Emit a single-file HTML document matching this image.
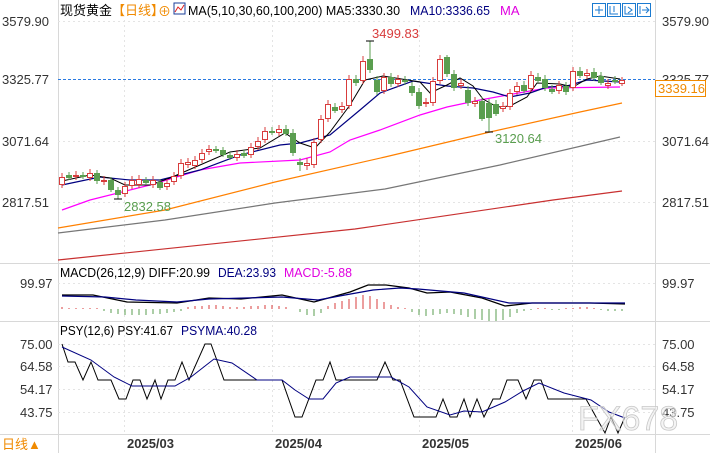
<!DOCTYPE html>
<html><head><meta charset="utf-8"><style>
html,body{margin:0;padding:0;background:#fff;width:710px;height:453px;overflow:hidden}
svg{display:block}
text{font-family:"Liberation Sans","Noto Sans CJK SC",sans-serif;font-size:13px}
.wm{font-size:34px}
</style></head><body>
<svg width="710" height="453" viewBox="0 0 710 453" xmlns="http://www.w3.org/2000/svg">
<g stroke="#d8d8d8" stroke-width="1" fill="none">
<line x1="58.5" y1="0" x2="58.5" y2="453"/>
<line x1="655.5" y1="0" x2="655.5" y2="453"/>
<line x1="0" y1="263.5" x2="710" y2="263.5"/>
<line x1="0" y1="321.5" x2="710" y2="321.5"/>
<line x1="0" y1="434.5" x2="710" y2="434.5"/>
</g>
<g stroke="#e4e4e4" stroke-dasharray="2,3" fill="none">
<line x1="124.5" y1="20" x2="124.5" y2="434"/>
<line x1="272.5" y1="20" x2="272.5" y2="434"/>
<line x1="419.5" y1="20" x2="419.5" y2="434"/>
<line x1="572.5" y1="20" x2="572.5" y2="434"/>
<line x1="58" y1="21.5" x2="655" y2="21.5"/>
<line x1="58" y1="141.5" x2="655" y2="141.5"/>
<line x1="58" y1="202.5" x2="655" y2="202.5"/>
<line x1="58" y1="283.5" x2="655" y2="283.5"/>
<line x1="58" y1="344.5" x2="655" y2="344.5"/>
<line x1="58" y1="366.5" x2="655" y2="366.5"/>
<line x1="58" y1="389.5" x2="655" y2="389.5"/>
<line x1="58" y1="412.5" x2="655" y2="412.5"/>
</g>
<line x1="58" y1="79.5" x2="655" y2="79.5" stroke="#2a7ae0" stroke-dasharray="3,2"/>
<text x="60" y="15" fill="#000">现货黄金</text>
<text x="112" y="15" fill="#f08a00">【日线】</text>
<text x="158" y="16" fill="#f08a00" font-size="12">⊕</text>
<rect x="174" y="3" width="11" height="11" fill="#fff" stroke="#1a3c9a"/>
<polyline points="175,12 178,7 181,10 184,5" fill="none" stroke="#e02020"/>
<text x="188" y="15" fill="#000" textLength="212" lengthAdjust="spacingAndGlyphs">MA(5,10,30,60,100,200) MA5:3330.30</text>
<text x="410" y="15" fill="#000080" textLength="80" lengthAdjust="spacingAndGlyphs">MA10:3336.65</text>
<text x="500" y="15" fill="#e000e0">MA</text>
<g stroke="#1a7ad0" fill="none">
<rect x="592.5" y="3.5" width="13" height="13"/>
<rect x="607.5" y="3.5" width="13" height="13"/>
<rect x="622.5" y="3.5" width="13" height="13"/>
<rect x="637.5" y="3.5" width="13" height="13"/>
<path d="M599 6v8M595 10h8M610 6v8h8M614 6v6M625 6v8h8M628 7l4 3-4 3M640 6v8M642 10h6M646 7l3 3-3 3"/>
</g>
<g fill="#333">
<text x="2" y="26">3579.90</text>
<text x="2" y="84">3325.77</text>
<text x="2" y="146">3071.64</text>
<text x="2" y="207">2817.51</text>
<text x="20" y="288">99.97</text>
<text x="20" y="349">75.00</text>
<text x="20" y="371">64.58</text>
<text x="20" y="394">54.17</text>
<text x="20" y="417">43.75</text>
<text x="662" y="26">3579.90</text>
<text x="662" y="84">3325.77</text>
<text x="662" y="146">3071.64</text>
<text x="662" y="207">2817.51</text>
<text x="662" y="288">99.97</text>
<text x="662" y="349">75.00</text>
<text x="662" y="371">64.58</text>
<text x="662" y="394">54.17</text>
<text x="662" y="417">43.75</text>
</g>
<rect x="655.5" y="80.5" width="50" height="16" fill="#fff" stroke="#f08a00"/>
<text x="658" y="93" fill="#f08a00">3339.16</text>
<g fill="#333" font-weight="bold"><text x="127" y="448" font-size="12">2025/03</text><text x="275" y="448" font-size="12">2025/04</text><text x="422" y="448" font-size="12">2025/05</text><text x="575" y="448" font-size="12">2025/06</text></g>
<text x="2" y="449" fill="#f08a00">日线▲</text>
<g fill="none" stroke-width="1.2">
<polyline stroke="#c83030" points="58,260 355,229 553,200 622,191"/>
<polyline stroke="#777" points="58,233 165,220 275,203 385,189 500,165 620,137"/>
<polyline stroke="#ff8000" points="58,228 165,210 275,182 385,157 490,132 580,112 622,103"/>
<polyline stroke="#ff00ff" points="62,210 90,200 150,185 200,170 240,163 300,160 330,152 350,140 380,130 420,115 447,107 480,100 513,94 547,88 620,87"/>
<polyline stroke="#000080" points="62,185 100,177 130,180 160,180 200,170 240,155 280,145 300,143 330,135 360,110 380,93 413,81 447,86 473,88 493,92 510,97 530,93 547,87 567,86 587,80 620,82"/>
<polyline stroke="#000" stroke-width="1" points="62,181 90,175 110,178 125,185 150,185 170,178 200,165 230,152 260,148 285,133 300,143 315,148 330,132 350,105 365,80 383,76 420,82 430,93 447,85 460,78 473,86 483,99 497,107 510,106 527,97 537,83 560,84 573,87 587,79 600,76 620,79"/>
</g>
<g stroke-width="1">
<g stroke="#d83c3c" fill="#fff">
<path d="M62 173v15M76 171v9M90 169v12M104 176v9M125 182v15M132 176v13M139 175v13M153 176v12M167 179v11M174 172v13M181 159v20M188 158v10M195 156v13M202 149v14M209 145v10M237 150v11M251 143v15M258 137v13M265 127v16M279 125v11M307 158v12M314 138v30M321 115v28M328 100v22M342 102v11M349 75v34M363 56v28M384 73v21M398 75v12M426 98v9M433 77v29M440 55v29M461 79v10M475 97v10M503 102v10M510 89v21M517 82v13M531 71v21M559 81v13M573 67v24M587 69v10M608 79v10M622 77v9"/>
<rect x="59.5" y="177.5" width="5" height="7"/><rect x="73.5" y="175.5" width="5" height="1"/><rect x="87.5" y="173.5" width="5" height="4"/><rect x="101.5" y="180.5" width="5" height="1"/><rect x="122.5" y="186.5" width="5" height="7"/><rect x="129.5" y="180.5" width="5" height="5"/><rect x="136.5" y="179.5" width="5" height="5"/><rect x="150.5" y="180.5" width="5" height="4"/><rect x="164.5" y="183.5" width="5" height="3"/><rect x="171.5" y="176.5" width="5" height="5"/><rect x="178.5" y="163.5" width="5" height="12"/><rect x="185.5" y="162.5" width="5" height="2"/><rect x="192.5" y="160.5" width="5" height="5"/><rect x="199.5" y="153.5" width="5" height="6"/><rect x="206.5" y="149.5" width="5" height="2"/><rect x="234.5" y="154.5" width="5" height="3"/><rect x="248.5" y="147.5" width="5" height="7"/><rect x="255.5" y="141.5" width="5" height="5"/><rect x="262.5" y="131.5" width="5" height="8"/><rect x="276.5" y="129.5" width="5" height="3"/><rect x="304.5" y="163.5" width="5" height="2"/><rect x="311.5" y="142.5" width="5" height="22"/><rect x="318.5" y="119.5" width="5" height="20"/><rect x="325.5" y="104.5" width="5" height="14"/><rect x="339.5" y="106.5" width="5" height="3"/><rect x="346.5" y="79.5" width="5" height="26"/><rect x="360.5" y="61.5" width="5" height="19"/><rect x="381.5" y="77.5" width="5" height="13"/><rect x="395.5" y="79.5" width="5" height="4"/><rect x="423.5" y="102.5" width="5" height="1"/><rect x="430.5" y="81.5" width="5" height="21"/><rect x="437.5" y="59.5" width="5" height="21"/><rect x="458.5" y="83.5" width="5" height="2"/><rect x="472.5" y="101.5" width="5" height="2"/><rect x="500.5" y="106.5" width="5" height="2"/><rect x="507.5" y="93.5" width="5" height="13"/><rect x="514.5" y="86.5" width="5" height="5"/><rect x="528.5" y="75.5" width="5" height="13"/><rect x="556.5" y="85.5" width="5" height="5"/><rect x="570.5" y="71.5" width="5" height="16"/><rect x="584.5" y="73.5" width="5" height="2"/><rect x="605.5" y="83.5" width="5" height="2"/><rect x="619.5" y="80.5" width="5" height="3"/>
</g>
<g stroke="#5a9e4f" fill="#5a9e4f">
<path d="M69 172v8M83 172v7M97 170v14M111 177v15M118 187v12M146 177v8M160 179v11M216 146v7M223 147v10M230 152v8M244 150v8M272 127v8M286 125v11M293 129v27M300 158v13M335 103v10M356 75v11M370 41v32M377 76v19M391 73v14M405 76v9M412 82v14M419 88v21M447 55v22M454 70v21M468 86v20M482 97v24M489 99v33M496 100v16M524 81v12M538 73v10M545 75v16M552 85v9M566 82v13M580 67v11M594 68v13M601 72v13M615 76v8"/>
<rect x="66.5" y="175.5" width="5" height="2"/><rect x="80.5" y="175.5" width="5" height="1"/><rect x="94.5" y="173.5" width="5" height="7"/><rect x="108.5" y="180.5" width="5" height="9"/><rect x="115.5" y="190.5" width="5" height="4"/><rect x="143.5" y="180.5" width="5" height="2"/><rect x="157.5" y="182.5" width="5" height="5"/><rect x="213.5" y="149.5" width="5" height="1"/><rect x="220.5" y="150.5" width="5" height="4"/><rect x="227.5" y="155.5" width="5" height="2"/><rect x="241.5" y="153.5" width="5" height="2"/><rect x="269.5" y="131.5" width="5" height="1"/><rect x="283.5" y="129.5" width="5" height="4"/><rect x="290.5" y="133.5" width="5" height="19"/><rect x="297.5" y="162.5" width="5" height="2"/><rect x="332.5" y="107.5" width="5" height="3"/><rect x="353.5" y="79.5" width="5" height="3"/><rect x="367.5" y="59.5" width="5" height="10"/><rect x="374.5" y="80.5" width="5" height="11"/><rect x="388.5" y="77.5" width="5" height="6"/><rect x="402.5" y="80.5" width="5" height="1"/><rect x="409.5" y="86.5" width="5" height="6"/><rect x="416.5" y="92.5" width="5" height="13"/><rect x="444.5" y="57.5" width="5" height="16"/><rect x="451.5" y="74.5" width="5" height="13"/><rect x="465.5" y="90.5" width="5" height="12"/><rect x="479.5" y="101.5" width="5" height="17"/><rect x="486.5" y="103.5" width="5" height="14"/><rect x="493.5" y="104.5" width="5" height="9"/><rect x="521.5" y="85.5" width="5" height="5"/><rect x="535.5" y="77.5" width="5" height="3"/><rect x="542.5" y="79.5" width="5" height="8"/><rect x="549.5" y="89.5" width="5" height="2"/><rect x="563.5" y="86.5" width="5" height="5"/><rect x="577.5" y="71.5" width="5" height="4"/><rect x="591.5" y="72.5" width="5" height="5"/><rect x="598.5" y="76.5" width="5" height="6"/><rect x="612.5" y="80.5" width="5" height="1"/>
</g>
</g>
<path d="M114 199h8M366 41h8M485 132h8" stroke="#000"/>
<text x="372" y="38" fill="#d83c3c">3499.83</text>
<text x="124" y="211" fill="#5a9e4f">2832.58</text>
<text x="495" y="143" fill="#5a9e4f">3120.64</text>
<text x="60" y="277" fill="#000" textLength="150" lengthAdjust="spacingAndGlyphs">MACD(26,12,9) DIFF:20.99</text>
<text x="218" y="277" fill="#000080" textLength="58" lengthAdjust="spacingAndGlyphs">DEA:23.93</text>
<text x="284" y="277" fill="#e000e0" textLength="68" lengthAdjust="spacingAndGlyphs">MACD:-5.88</text>
<g stroke-width="1">
<path stroke="#d83c3c" d="M62 309v-2M69 309v-1M76 309v-1M83 309v-1M90 309v-1M97 309v-1M188 309v-2M195 309v-3M202 309v-3M209 309v-4M216 309v-4M223 309v-3M230 309v-2M237 309v-2M244 309v-2M251 309v-3M258 309v-3M265 309v-4M272 309v-4M279 309v-3M286 309v-2M328 309v-3M335 309v-6M342 309v-8M349 309v-10M356 309v-12M363 309v-14M370 309v-13M377 309v-10M384 309v-7M391 309v-4M398 309v-2M405 309v-1M538 309v-1M545 309v-1M566 309v-1M573 309v-1M580 309v-2M587 309v-2M594 309v-1"/>
<path stroke="#5a9e4f" d="M104 309v2M111 309v4M118 309v5M125 309v6M132 309v6M139 309v6M146 309v6M153 309v5M160 309v5M167 309v4M174 309v3M181 309v2M300 309v3M307 309v6M314 309v7M321 309v4M412 309v3M419 309v6M426 309v7M433 309v6M440 309v5M447 309v4M454 309v5M461 309v6M468 309v8M475 309v10M482 309v11M489 309v12M496 309v12M503 309v11M510 309v8M517 309v4M524 309v2M531 309v1M552 309v1M559 309v1M601 309v1M608 309v2M615 309v2M622 309v2"/>
</g>
<polyline fill="none" stroke="#000" stroke-width="1.3" points="62,295 93,295 127,302 177,303 209,298 241,299 282,295 314,302 350,292 368,285 386,285 409,288 427,293 450,292 482,298 505,306 532,303 590,303 625,304"/>
<polyline fill="none" stroke="#000080" stroke-width="1.2" points="62,296 105,297 136,300 177,302 209,299 282,297 318,300 345,295 373,290 400,288 418,289 464,293 509,303 545,303 625,303"/>
<text x="60" y="335" fill="#000" textLength="113" lengthAdjust="spacingAndGlyphs">PSY(12,6) PSY:41.67</text>
<text x="181" y="335" fill="#000080" textLength="76" lengthAdjust="spacingAndGlyphs">PSYMA:40.28</text>
<polyline fill="none" stroke="#000" stroke-width="1" points="62,344 68,362 75,362 83,380 91,362 98,380 111,380 119,399 126,399 133,380 140,380 147,399 155,380 161,399 168,380 175,380 182,362 189,380 205,344 211,344 224,380 259,380 282,380 295,417 302,417 316,380 323,380 330,362 336,380 377,380 385,362 393,380 400,380 414,417 436,417 443,399 450,417 457,417 464,399 470,417 477,399 484,417 493,399 500,399 507,380 518,380 526,399 534,380 541,380 548,399 586,399 605,433 611,417 618,433 625,417"/>
<polyline fill="none" stroke="#000080" stroke-width="1" points="62,347 91,360 114,377 132,386 150,386 164,386 175,386 191,377 214,359 232,363 257,380 282,380 295,390 309,399 323,399 336,383 350,377 364,377 382,377 391,377 409,387 427,407 450,415 464,411 482,412 505,402 523,391 539,383 564,393 591,400 609,412 625,418"/>
<text x="578" y="430" class="wm" fill="#ececec" fill-opacity="0.6" stroke="#c8c8c8" stroke-width="0.8">FX678</text>
</svg>
</body></html>
